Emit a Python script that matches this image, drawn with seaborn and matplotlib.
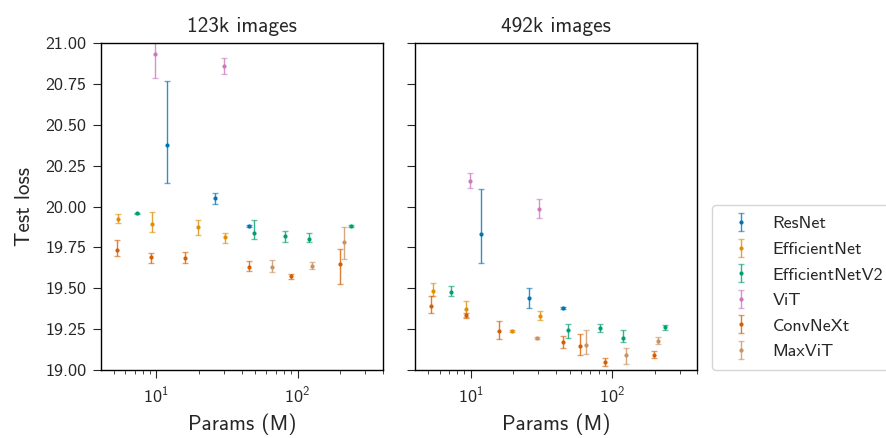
import numpy as np
import matplotlib
matplotlib.use("Agg")
import matplotlib.pyplot as plt
import seaborn as sns

# models and palette order
models = ["ResNet", "EfficientNet", "EfficientNetV2", "ViT", "ConvNeXt", "MaxViT"]
panel_titles = ["123k images", "492k images"]

# 123k images: params (M), test loss, lower / upper end of the error bar
small_params = {
    "ResNet": [11.8, 25.8, 44.9],
    "EfficientNet": [5.38, 9.27, 19.6, 30.8],
    "EfficientNetV2": [7.3, 48.7, 81.9, 119.7, 237.7],
    "ViT": [9.84, 30.3],
    "ConvNeXt": [5.26, 9.17, 15.8, 45.2, 89.1, 199.5],
    "MaxViT": [65.5, 125.6, 214.0],
}
small_loss = {
    "ResNet": [20.376, 20.052, 19.881],
    "EfficientNet": [19.925, 19.891, 19.876, 19.813],
    "EfficientNetV2": [19.958, 19.840, 19.818, 19.803, 19.881],
    "ViT": [20.935, 20.859],
    "ConvNeXt": [19.734, 19.691, 19.687, 19.632, 19.573, 19.646],
    "MaxViT": [19.632, 19.634, 19.781],
}
small_low = {
    "ResNet": [20.144, 20.017, 19.876],
    "EfficientNet": [19.901, 19.842, 19.826, 19.777],
    "EfficientNetV2": [19.953, 19.799, 19.785, 19.783, 19.876],
    "ViT": [20.784, 20.809],
    "ConvNeXt": [19.695, 19.654, 19.656, 19.606, 19.558, 19.524],
    "MaxViT": [19.599, 19.618, 19.679],
}
small_high = {
    "ResNet": [20.768, 20.084, 19.886],
    "EfficientNet": [19.952, 19.964, 19.916, 19.840],
    "EfficientNetV2": [19.963, 19.916, 19.852, 19.840, 19.886],
    "ViT": [21.06, 20.906],
    "ConvNeXt": [19.793, 19.714, 19.724, 19.665, 19.585, 19.742],
    "MaxViT": [19.671, 19.659, 19.875],
}

# 492k images
large_params = {
    "ResNet": [11.8, 25.8, 44.7],
    "EfficientNet": [5.35, 9.2, 19.6, 30.8],
    "EfficientNetV2": [7.2, 48.4, 81.3, 119.0, 236.6],
    "ViT": [9.8, 30.3],
    "ConvNeXt": [5.2, 9.17, 15.7, 45.0, 59.0, 89.1, 198.6],
    "MaxViT": [29.2, 65.0, 125.0, 212.0],
}
large_loss = {
    "ResNet": [19.834, 19.438, 19.379],
    "EfficientNet": [19.483, 19.373, 19.239, 19.328],
    "EfficientNetV2": [19.479, 19.245, 19.257, 19.198, 19.261],
    "ViT": [20.156, 19.983],
    "ConvNeXt": [19.391, 19.336, 19.237, 19.173, 19.149, 19.047, 19.094],
    "MaxViT": [19.196, 19.153, 19.094, 19.179],
}
large_low = {
    "ResNet": [19.656, 19.377, 19.374],
    "EfficientNet": [19.454, 19.327, 19.234, 19.304],
    "EfficientNetV2": [19.454, 19.196, 19.232, 19.171, 19.245],
    "ViT": [20.111, 19.928],
    "ConvNeXt": [19.347, 19.320, 19.190, 19.136, 19.094, 19.023, 19.075],
    "MaxViT": [19.191, 19.100, 19.039, 19.157],
}
large_high = {
    "ResNet": [20.107, 19.500, 19.384],
    "EfficientNet": [19.534, 19.424, 19.244, 19.361],
    "EfficientNetV2": [19.516, 19.279, 19.279, 19.243, 19.273],
    "ViT": [20.203, 20.044],
    "ConvNeXt": [19.453, 19.350, 19.302, 19.208, 19.218, 19.071, 19.114],
    "MaxViT": [19.201, 19.243, 19.133, 19.200],
}

sns.set_style("white")
plt.rcParams["font.family"] = ["cmss10", "DejaVu Sans"]
plt.rcParams["mathtext.fontset"] = "custom"
plt.rcParams["mathtext.rm"] = "cmss10"
plt.rcParams["mathtext.it"] = "cmss10"
plt.rcParams["mathtext.bf"] = "cmss10"
plt.rcParams["axes.formatter.use_mathtext"] = True
plt.rcParams["axes.unicode_minus"] = False
plt.rcParams["xtick.bottom"] = True
plt.rcParams["ytick.left"] = True
plt.rcParams["axes.edgecolor"] = "black"

palette = sns.color_palette("colorblind")
colors = {"ResNet": palette[0], "EfficientNet": palette[1], "EfficientNetV2": palette[2],
          "ViT": palette[4], "ConvNeXt": palette[3], "MaxViT": palette[5]}

fig, axes = plt.subplots(1, 2, figsize=(8.86, 4.38), dpi=100, sharey=True)
fig.subplots_adjust(left=0.114, right=0.787, bottom=0.155, top=0.902, wspace=0.116)

panels = [(small_params, small_loss, small_low, small_high),
          (large_params, large_loss, large_low, large_high)]
handles = []
for ax, (params, loss, low, high), title in zip(axes, panels, panel_titles):
    for m in models:
        y = np.array(loss[m])
        yerr = [y - np.array(low[m]), np.array(high[m]) - y]
        eb = ax.errorbar(params[m], y, yerr=yerr, fmt=".", ms=4,
                         color=colors[m], capsize=2, elinewidth=1, capthick=1,
                         label=m)
        for c in eb[2]:
            c.set_alpha(0.8)
        for c in eb[1]:
            c.set_alpha(0.6)
        if ax is axes[0]:
            handles.append(eb)
    ax.set_xscale("log")
    ax.set_xlim(4.05, 400)
    ax.set_ylim(19.0, 21.0)
    ax.set_yticks([19.0, 19.25, 19.5, 19.75, 20.0, 20.25, 20.5, 20.75, 21.0])
    ax.set_title(title, fontsize=15.3, pad=8)
    ax.set_xlabel("Params (M)", fontsize=15.3, labelpad=6)
    ax.tick_params(axis="both", which="major", labelsize=13, length=5.5, pad=5)
    ax.tick_params(axis="both", which="minor", length=3)
    for s in ax.spines.values():
        s.set_linewidth(1.0)

axes[0].set_ylabel("Test loss", fontsize=15.3, labelpad=8)
axes[0].yaxis.set_major_formatter(matplotlib.ticker.FormatStrFormatter("%.2f"))
axes[1].tick_params(axis="y", labelleft=False)

fig.legend(handles, models, loc="lower left", bbox_to_anchor=(0.8036, 0.155),
           borderaxespad=0, fontsize=13, frameon=True, handlelength=2,
           labelspacing=0.55, borderpad=0.6, handletextpad=0.75)

plt.savefig("out.png", dpi=100)
